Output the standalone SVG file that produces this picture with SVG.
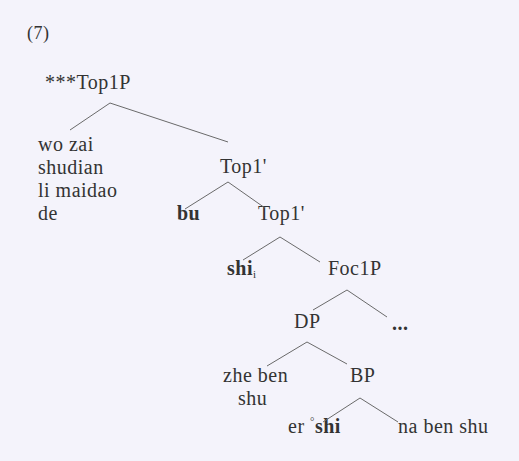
<svg xmlns="http://www.w3.org/2000/svg" width="519" height="461" viewBox="0 0 519 461">
<style>
text{font-family:'Liberation Serif','Times New Roman',serif;font-size:20px;fill:#333;letter-spacing:0.5px}
.b{font-weight:bold}
.sub{font-size:11px;font-weight:normal}
.conn line{stroke:#6a6a6a;stroke-width:1;fill:none}
</style>
<rect x="0" y="0" width="519" height="461" fill="#f4f3fb"/>
<text id="label7" x="27" y="39" style="font-size:18px">(7)</text>
<g id="n-top1p"><text x="45" y="89">***Top1P</text></g>
<g id="n-wozai"><text x="38" y="151">wo zai</text><text x="38" y="174">shudian</text><text x="38" y="197">li maidao</text><text x="38" y="220">de</text></g>
<g id="n-top1bar1"><text x="220" y="173">Top1'</text></g>
<g id="n-bu"><text class="b" x="177" y="220">bu</text></g>
<g id="n-top1bar2"><text x="258" y="220">Top1'</text></g>
<g id="n-shi"><text class="b" x="227" y="275">shi<tspan class="sub" dy="3">i</tspan></text></g>
<g id="n-foc1p"><text x="328" y="275">Foc1P</text></g>
<g id="n-dp"><text x="294" y="328">DP</text></g>
<g id="n-dots"><text class="b" x="392" y="330">...</text></g>
<g id="n-zheben"><text x="223" y="382">zhe ben</text><text x="238" y="405">shu</text></g>
<g id="n-bp"><text x="350" y="382">BP</text></g>
<g id="n-ershi"><text x="288" y="433">er <tspan class="sub" dy="-8">°</tspan><tspan class="b" dy="8">shi</tspan></text></g>
<g id="n-nabenshu"><text x="398" y="433">na ben shu</text></g>
<g class="conn" id="connectors">
<line x1="110" y1="103" x2="70" y2="130"/>
<line x1="110" y1="103" x2="228" y2="142"/>
<line x1="228" y1="182" x2="185" y2="209"/>
<line x1="228" y1="182" x2="265" y2="208"/>
<line x1="280" y1="237" x2="243" y2="260"/>
<line x1="280" y1="237" x2="320" y2="262"/>
<line x1="347" y1="290" x2="313" y2="310"/>
<line x1="347" y1="290" x2="387" y2="317"/>
<line x1="307" y1="342" x2="267" y2="366"/>
<line x1="307" y1="342" x2="347" y2="364"/>
<line x1="360" y1="398" x2="323" y2="422"/>
<line x1="360" y1="398" x2="398" y2="422"/>
</g>
</svg>
